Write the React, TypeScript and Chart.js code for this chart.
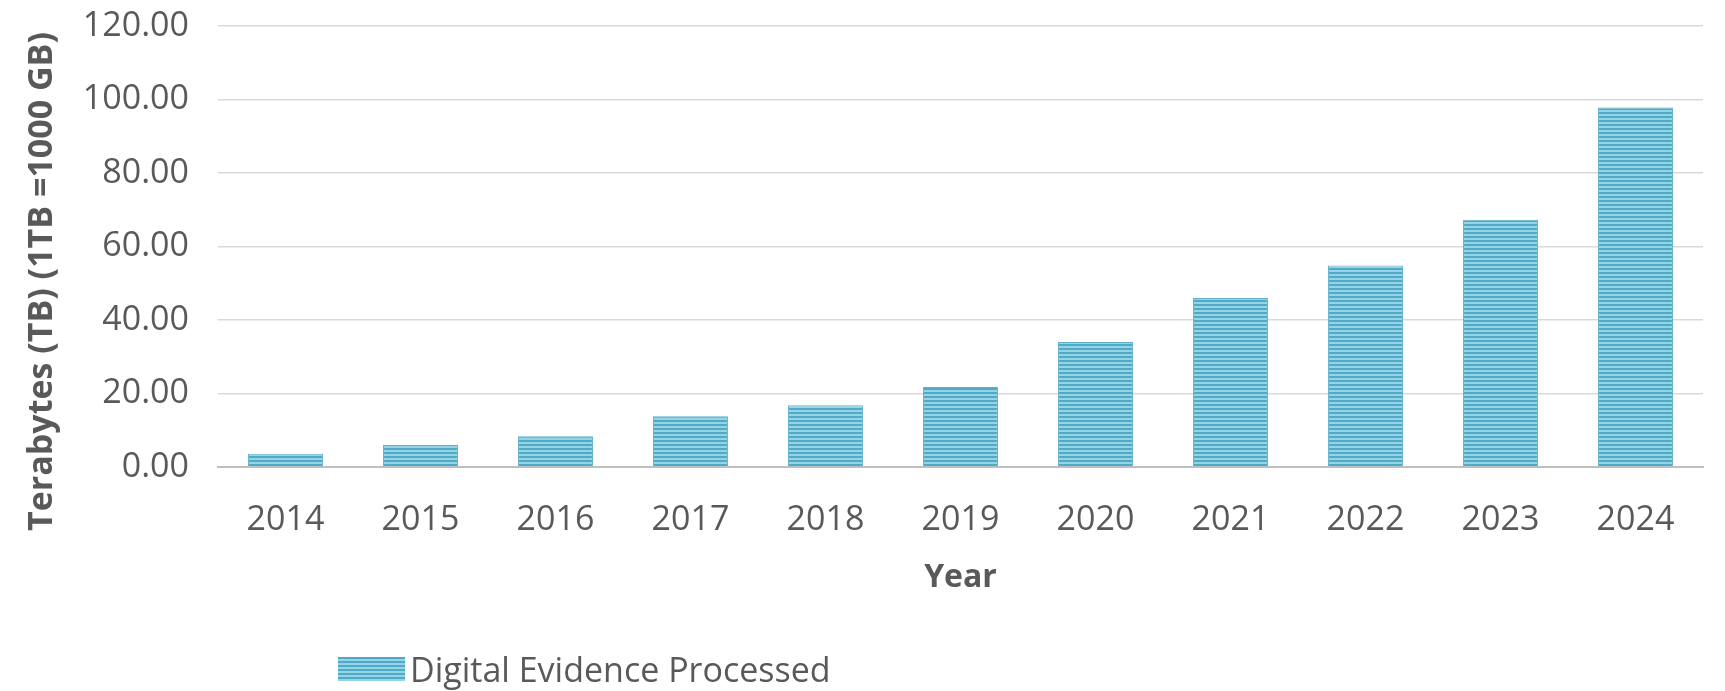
import React, { useEffect, useRef } from "react";
import { Chart, registerables } from "chart.js";

Chart.register(...registerables);

const years = ["2014", "2015", "2016", "2017", "2018", "2019", "2020", "2021", "2022", "2023", "2024"];
const terabytes = [3.6, 6.0, 8.4, 13.8, 16.8, 21.8, 34.0, 46.0, 54.8, 67.3, 97.8];
const seriesLabel = "Digital Evidence Processed";
const yTitle = "Terabytes (TB) (1TB =1000 GB)";
const xTitle = "Year";

const TEXT = "#595959";
const FONT = "'Open Sans', 'Noto Sans', sans-serif";
const STRIPE_DARK = "#4eaac6";
const STRIPE_LIGHT = "#95d4e5";

function makeStripes(ctx: CanvasRenderingContext2D): CanvasPattern | string {
  const c = document.createElement("canvas");
  c.width = 4;
  c.height = 4;
  const g = c.getContext("2d");
  if (!g) return STRIPE_DARK;
  g.fillStyle = STRIPE_DARK;
  g.fillRect(0, 0, 4, 2);
  g.fillStyle = STRIPE_LIGHT;
  g.fillRect(0, 2, 4, 2);
  return ctx.createPattern(c, "repeat") || STRIPE_DARK;
}

// Rotated y-axis title, placed a little below the plot's vertical centre.
const yTitlePlugin = {
  id: "yTitle",
  afterDraw(chart: any) {
    const { ctx, chartArea } = chart;
    const cy = (chartArea.top + chartArea.bottom) / 2 + 35;
    ctx.save();
    ctx.translate(42, cy);
    ctx.rotate(-Math.PI / 2);
    ctx.fillStyle = TEXT;
    ctx.font = `bold 34px ${FONT}`;
    ctx.textAlign = "center";
    ctx.textBaseline = "middle";
    ctx.fillText(yTitle, 0, 0);
    ctx.restore();
  },
};

export default function App() {
  const canvasRef = useRef<HTMLCanvasElement>(null);

  useEffect(() => {
    const canvas = canvasRef.current;
    if (!canvas) return;
    const ctx = canvas.getContext("2d")!;
    const stripes = makeStripes(ctx);

    const chart = new Chart(ctx, {
      type: "bar",
      data: {
        labels: years,
        datasets: [
          {
            label: seriesLabel,
            data: terabytes,
            backgroundColor: stripes as any,
            borderColor: "#5fb0c8",
            borderWidth: 1,
            categoryPercentage: 1,
            barPercentage: 0.555,
          },
        ],
      },
      options: {
        responsive: false,
        animation: false,
        layout: { padding: { left: 0, right: 22, top: 26, bottom: 94 } },
        plugins: {
          legend: { display: false },
          tooltip: { enabled: false },
        },
        scales: {
          x: {
            grid: { display: false, drawTicks: false },
            border: { display: true, color: "#bfbfbf", width: 2 },
            ticks: { color: TEXT, font: { family: FONT, size: 34 }, padding: 33 },
            title: {
              display: true,
              text: xTitle,
              color: TEXT,
              padding: { top: 0, bottom: 0 },
              font: { family: FONT, size: 32, weight: "bold" },
            },
            afterFit: (s: any) => {
              s.height = 130;
            },
          },
          y: {
            min: 0,
            max: 120,
            grid: {
              color: "#d9d9d9",
              lineWidth: 1.5,
              drawTicks: true,
              tickLength: 29,
              tickColor: "rgba(0,0,0,0)",
            },
            border: { display: false },
            ticks: {
              stepSize: 20,
              color: TEXT,
              font: { family: FONT, size: 34 },
              padding: 0,
              callback: (v: any) => Number(v).toFixed(2),
            },
            afterFit: (s: any) => {
              s.width = 218;
            },
          },
        },
      },
      plugins: [yTitlePlugin],
    });
    return () => chart.destroy();
  }, []);

  return (
    <div style={{ position: "fixed", left: 0, top: 0, width: 1725, height: 691, background: "#fff" }}>
      <canvas ref={canvasRef} width={1725} height={691} style={{ display: "block" }} />
      <div
        style={{
          position: "absolute",
          left: 338,
          top: 646,
          display: "flex",
          alignItems: "center",
          gap: 5,
          fontFamily: FONT,
          fontSize: 34,
          color: TEXT,
          whiteSpace: "nowrap",
        }}
      >
        <span
          style={{
            display: "inline-block",
            width: 67,
            height: 24,
            background: `repeating-linear-gradient(to bottom, ${STRIPE_DARK} 0px, ${STRIPE_DARK} 2px, ${STRIPE_LIGHT} 2px, ${STRIPE_LIGHT} 4px)`,
          }}
        />
        <span>{seriesLabel}</span>
      </div>
    </div>
  );
}
